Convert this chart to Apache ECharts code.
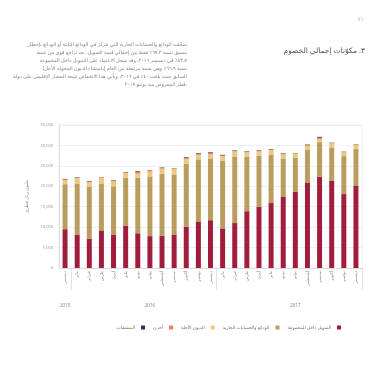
<!DOCTYPE html>
<html><head><meta charset="utf-8">
<script src="https://cdn.jsdelivr.net/npm/echarts@6/dist/echarts.min.js"></script>
<style>html,body{margin:0;padding:0;background:#fff}#c{width:380px;height:380px}</style>
</head><body><div id="c"></div>
<script>
const months = ['ديسمبر','يناير','فبراير','مارس','أبريل','مايو','يونيو','يوليو','أغسطس','سبتمبر','أكتوبر','نوفمبر','ديسمبر','يناير','فبراير','مارس','أبريل','مايو','يونيو','يوليو','أغسطس','سبتمبر','أكتوبر','نوفمبر','ديسمبر'];
const years = ['2015','','','','','','','2016','','','','','','','','','','','','2017','','','','',''];
const yTicks = [0,5000,10000,15000,20000,25000,30000,35000];
const intraGroup = [9500,8200,7200,9200,8200,10400,8500,7800,7900,8200,10100,11400,11700,9700,11000,13900,15000,15900,17400,18600,20800,22300,21400,18100,20200];
const deposits = [11000,12500,12700,11500,11800,11700,13600,14600,15200,14700,15400,15200,15100,16500,16200,13300,12500,11900,9400,8400,8200,8500,8100,9300,8900];
const termDebt = [1000,1300,1100,1300,1200,1200,1000,1200,1200,1300,1200,1100,1000,1200,1300,1100,1000,1000,1000,1000,900,800,1000,900,1100];
const other = [200,100,200,150,200,100,450,200,200,150,250,250,350,150,200,200,200,200,200,100,200,300,150,150,100];
const derivatives = [100,100,100,50,100,100,150,100,100,50,150,150,150,150,100,100,100,100,100,50,100,200,50,50,50];
const seriesNames = ['التمويل داخل المجموعة','الودائع والحسابات الجارية','الديون الآجلة','أخرى','المشتقات'];
const colors = ['#a11d3d','#b89d5f','#ecc97f','#e48458','#2a2e5c'];
const para = [
 'سجّلت الودائع والحسابات الجارية التي تتركز في الودائع الثابتة أو الودائع بإخطار',
 'مسبق نسبة ٦٧.٣٪ فقط من إجمالي قيمة التمويل، بعد تراجع قوي من نسبة',
 '٨٣.٥٪ في ديسمبر ٢٠١٦. وقد سجل الاعتماد على التمويل داخل المجموعة',
 '(باستثناء الديون المحولة الأجل) نسبة ٦٦.٩٪ وهي نسبة مرتفعة عن العام',
 'السابق حيث بلغت ٤٠٪ في ٢٠١٦، ويأتي هذا الانخفاض نتيجة الحصار الإقليمي على دولة',
 'قطر المفروض منذ يونيو ٢٠١٧.'
];
const font = 'Noto Sans, DejaVu Sans, sans-serif';
const chart = echarts.init(document.getElementById('c'), null, {renderer:'canvas'});
const dataSets = [intraGroup, deposits, termDebt, other, derivatives];
const graphics = [
 {type:'text', right:15, top:47, style:{text:'٣. مكوّنات إجمالي الخصوم', fill:'#555', font:'7.5px '+font}},
 {type:'text', right:16, top:16, style:{text:'٧١', fill:'#bbb', font:'6px '+font}}
];
para.forEach((t,i)=>graphics.push({type:'text', right:193, top:42+i*8.1, style:{text:t, fill:'#858585', font:'5px '+font, align:'right'}}));
chart.setOption({
 animation:false,
 textStyle:{fontFamily:font},
 graphic: graphics,
 grid:{left:59, right:18, top:125, bottom:112, show:true, borderColor:'#e4e4e4', borderWidth:0.6},
 legend:{data:seriesNames.slice().reverse(), right:34, width:320, top:320, align:'right', itemWidth:4, itemHeight:4, itemGap:8, icon:'rect',
   textStyle:{fontSize:4.5, color:'#777', padding:[0,1,0,0]}},
 xAxis:[
  {type:'category', data:months, axisLine:{lineStyle:{color:'#ccc', width:0.6}},
   axisTick:{show:true, length:22, lineStyle:{color:'#ccc', width:0.6}, interval:(i)=> i===1 || i===13},
   axisLabel:{rotate:90, fontSize:4, color:'#888', margin:3, interval:0}},
  {type:'category', data:years, position:'bottom', offset:27, axisLine:{show:false}, axisTick:{show:false},
   axisLabel:{fontSize:4.5, color:'#888', interval:0}}
 ],
 yAxis:{type:'value', min:0, max:35000, interval:5000, name:'مليون ريال قطري', nameLocation:'middle', nameGap:22, nameRotate:90,
   nameTextStyle:{fontSize:4.5, color:'#888'},
   axisLine:{show:true, lineStyle:{color:'#ccc', width:0.6}}, axisTick:{show:false},
   splitLine:{lineStyle:{color:'#ececec', width:0.8}},
   axisLabel:{fontSize:4, color:'#999', margin:6, formatter:(v)=> yTicks.includes(v) ? v.toLocaleString('en-US') : ''}},
 series: seriesNames.map((n,i)=>({name:n, type:'bar', stack:'t', xAxisIndex:0, barWidth:5, data:dataSets[i], itemStyle:{color:colors[i]}}))
});
</script></body></html>
